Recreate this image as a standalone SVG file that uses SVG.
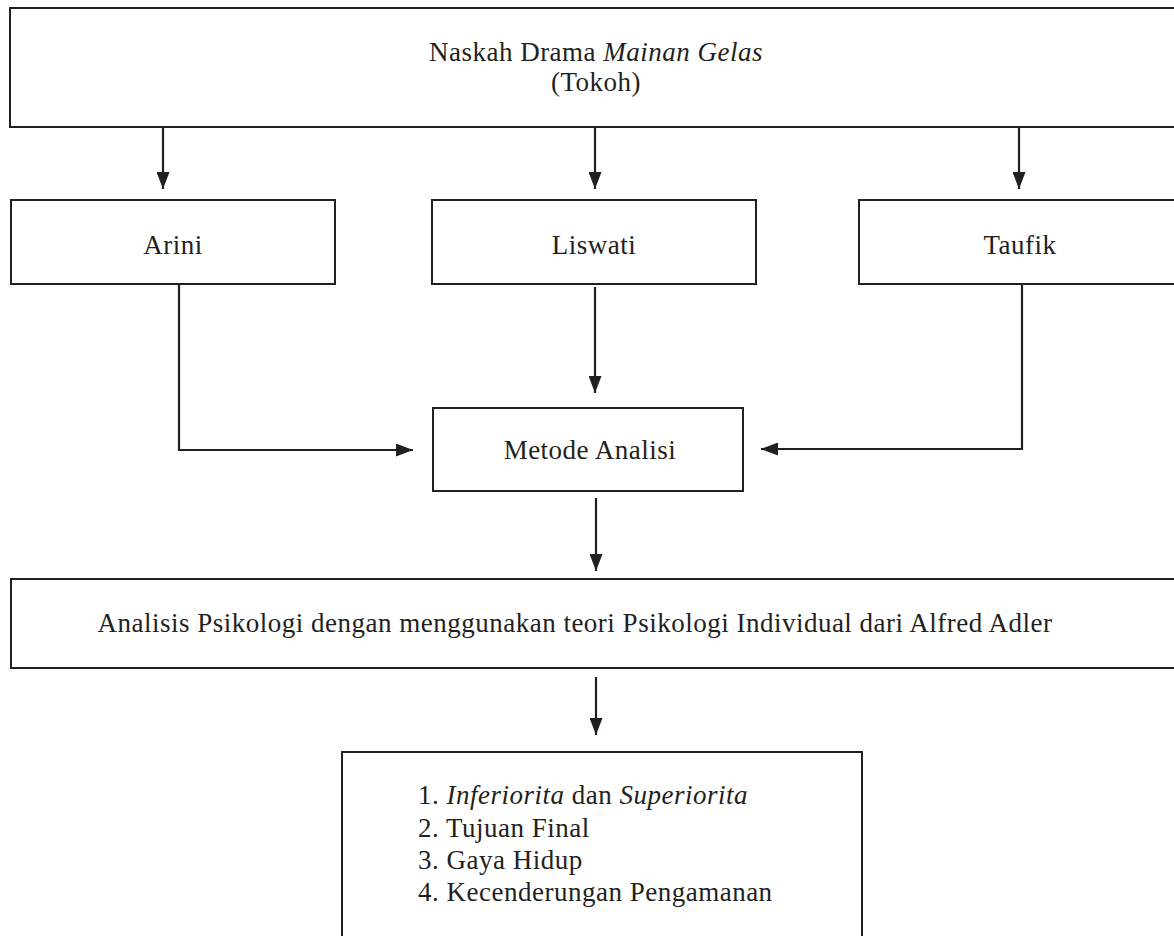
<svg xmlns="http://www.w3.org/2000/svg" width="1174" height="936" viewBox="0 0 1174 936">
<style>
.box{fill:#fff;stroke:#231f20;stroke-width:2}
.t{font-family:"Liberation Serif","Times New Roman",serif;font-size:27px;letter-spacing:0.5px;fill:#231f20}
.c{text-anchor:middle}
.conn{fill:none;stroke:#231f20;stroke-width:2.2}
</style>
<defs>
<marker id="ah" markerUnits="userSpaceOnUse" markerWidth="17" markerHeight="13" refX="17" refY="6.5" orient="auto">
<path d="M0,0 L17,6.5 L0,13 z" fill="#231f20"/>
</marker>
</defs>
<rect width="1174" height="936" fill="#fff"/>
<g id="node-naskah">
<rect class="box" x="10" y="8" width="1172" height="119"/>
<text class="t c" x="596" y="61">Naskah Drama <tspan font-style="italic">Mainan Gelas</tspan></text>
<text class="t c" x="596" y="91">(Tokoh)</text>
</g>
<g id="node-arini">
<rect class="box" x="11" y="200" width="324" height="84"/>
<text class="t c" x="173" y="254">Arini</text>
</g>
<g id="node-liswati">
<rect class="box" x="432" y="200" width="324" height="84"/>
<text class="t c" x="594" y="254">Liswati</text>
</g>
<g id="node-taufik">
<rect class="box" x="859" y="200" width="323" height="84"/>
<text class="t c" x="1020" y="254">Taufik</text>
</g>
<g id="node-metode">
<rect class="box" x="433" y="408" width="310" height="83"/>
<text class="t c" x="590" y="459">Metode Analisi</text>
</g>
<g id="node-analisis">
<rect class="box" x="11" y="579" width="1171" height="89"/>
<text class="t c" x="575" y="632">Analisis Psikologi dengan menggunakan teori Psikologi Individual dari Alfred Adler</text>
</g>
<g id="node-aspek">
<rect class="box" x="342" y="752" width="520" height="200"/>
<text class="t" x="418" y="804">1. <tspan font-style="italic">Inferiorita</tspan> dan <tspan font-style="italic">Superiorita</tspan></text>
<text class="t" x="418" y="837">2. Tujuan Final</text>
<text class="t" x="418" y="869">3. Gaya Hidup</text>
<text class="t" x="418" y="901">4. Kecenderungan Pengamanan</text>
</g>
<g id="connectors">
<path class="conn" d="M163,128 V189" marker-end="url(#ah)"/>
<path class="conn" d="M595,128 V189" marker-end="url(#ah)"/>
<path class="conn" d="M1019,128 V189" marker-end="url(#ah)"/>
<path class="conn" d="M179,285 V450 H413" marker-end="url(#ah)"/>
<path class="conn" d="M595,287 V393" marker-end="url(#ah)"/>
<path class="conn" d="M1022,285 V449 H761" marker-end="url(#ah)"/>
<path class="conn" d="M596,498 V571" marker-end="url(#ah)"/>
<path class="conn" d="M596,677 V735" marker-end="url(#ah)"/>
</g>
</svg>
